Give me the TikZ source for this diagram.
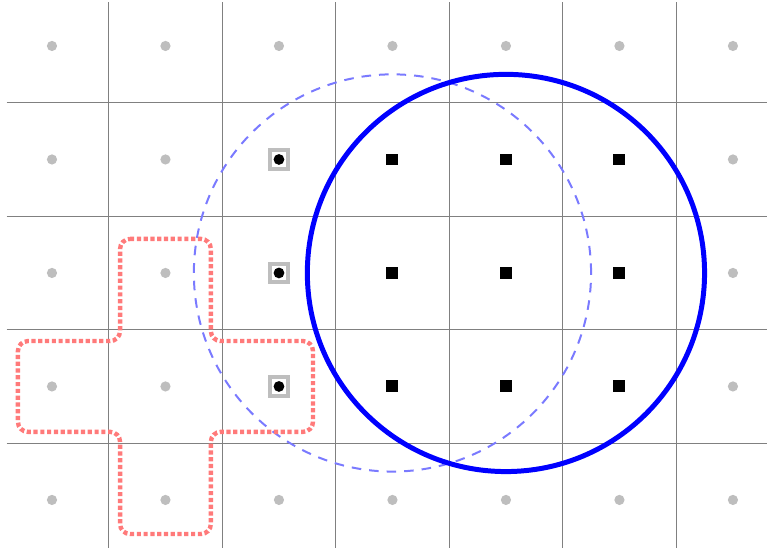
\documentclass[tikz,border=0pt]{standalone}
\usepackage{xcolor}
\definecolor{gridLine}{RGB}{128, 128, 128}
\definecolor{dotGray}{RGB}{190, 190, 190}
\definecolor{crossRed}{RGB}{255, 122, 122}
\definecolor{reachBlue}{RGB}{0, 0, 255}
\definecolor{ghostBlue}{RGB}{122, 122, 255}
\usepackage{tikz}

\begin{document}
\begin{tikzpicture}[
    gridRule/.style={
        draw=gridLine, line width=0.3pt
    },
    gridDot/.style={
        circle, fill=dotGray, inner sep=0pt, minimum size=0.09cm
    },
    blackSq/.style={
        rectangle, fill=black, inner sep=0pt, minimum size=0.105cm
    },
    frameBox/.style={
        rectangle, draw=dotGray, line width=1pt, fill=white,
        inner sep=0pt, minimum size=0.16cm
    },
    blackDot/.style={
        circle, fill=black, inner sep=0pt, minimum size=0.095cm
    },
    reachCircle/.style={
        draw=reachBlue, line width=1.25pt
    },
    ghostCircle/.style={
        draw=ghostBlue, line width=0.5pt, dash pattern=on 2.4pt off 2pt
    },
    crossLine/.style={
        draw=crossRed, line width=1.1pt, dash pattern=on 1.05pt off 0.65pt,
        rounded corners=2.5pt
    }
]

    % Frame of the page
    \useasboundingbox (-0.458, -0.423) rectangle (6.30, 4.405);

    % Grid lines between the points
    \foreach \x in {0.5, 1.5, ..., 5.5}
        \draw[gridRule] (\x, -0.45) -- (\x, 4.39);
    \foreach \y in {0.5, 1.5, 2.5, 3.5}
        \draw[gridRule] (-0.4, \y) -- (6.35, \y);

    % Lattice points
    \foreach \i in {0, ..., 6}
        \foreach \j in {0, ..., 4}
            \node[gridDot] (p-\i-\j) at (\i, \j) {};

    % Circles
    \draw[ghostCircle] (3, 2) circle (1.75);
    \draw[reachCircle] (4, 2) circle (1.75);

    % Plus-shaped region
    \draw[crossLine] (0.6, 2.3) -- (1.4, 2.3) -- (1.4, 1.4) -- (2.3, 1.4)
        -- (2.3, 0.6) -- (1.4, 0.6) -- (1.4, -0.3) -- (0.6, -0.3)
        -- (0.6, 0.6) -- (-0.3, 0.6) -- (-0.3, 1.4) -- (0.6, 1.4) -- cycle;

    % Covered points
    \foreach \i in {3, 4, 5}
        \foreach \j in {1, 2, 3}
            \node[blackSq] (sq-\i-\j) at (\i, \j) {};

    % Boundary points
    \foreach \j in {1, 2, 3} {
        \node[frameBox] (fr-\j) at (2, \j) {};
        \node[blackDot] (bd-\j) at (fr-\j) {};
    }

\end{tikzpicture}
\end{document}
